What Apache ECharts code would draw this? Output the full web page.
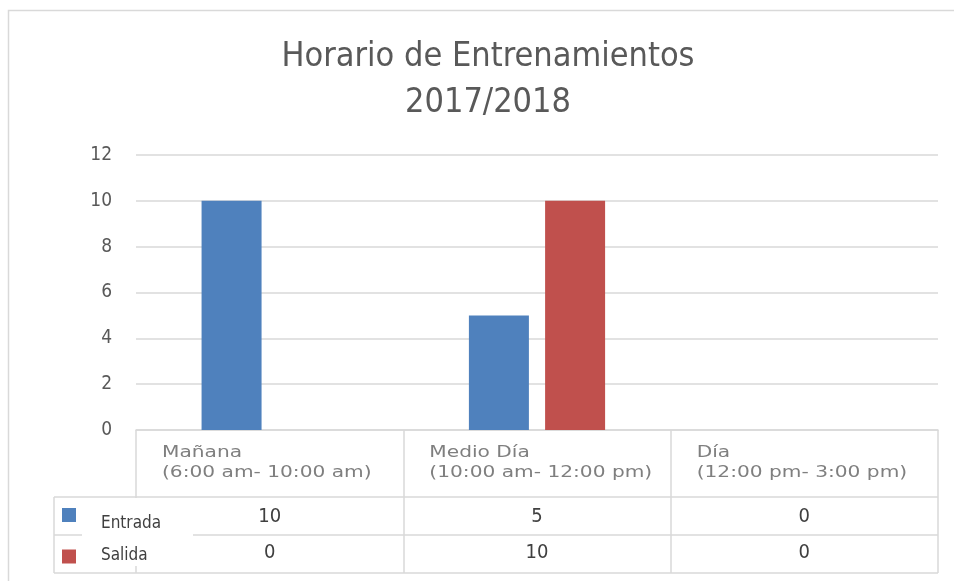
<!DOCTYPE html>
<html>
<head>
<meta charset="utf-8">
<script src="https://cdn.jsdelivr.net/npm/echarts@6/dist/echarts.min.js"></script>
<style>
  html, body { margin: 0; padding: 0; background: #fff; }
  #chart { width: 954px; height: 581px; }
</style>
</head>
<body>
<div id="chart"></div>
<script>
// datos del grafico
var categories = ['Mañana', 'Medio Día', 'Día'];
var categoryHours = ['(6:00 am- 10:00 am)', '(10:00 am- 12:00 pm)', '(12:00 pm- 3:00 pm)'];
var seriesNames = ['Entrada', 'Salida'];
var entrada = [10, 5, 0];
var salida = [0, 10, 0];
var yMin = 0, yMax = 12, yStep = 2;

var colors = ['#4f81bd', '#c0504d'];
var narrowFont = "'Liberation Sans Narrow', 'DejaVu Sans Condensed', sans-serif";
var wideFont = "'DejaVu Sans', Verdana, sans-serif";
var lineColor = '#d9d9d9';

var chart = echarts.init(document.getElementById('chart'));

chart.setOption({
  animation: false,
  color: colors,
  title: {
    text: 'Horario de Entrenamientos\n2017/2018',
    left: 483,
    top: 29,
    textAlign: 'center',
    textStyle: {
      fontFamily: narrowFont,
      fontSize: 34,
      fontWeight: 'normal',
      color: '#595959',
      lineHeight: 46
    }
  },
  grid: { left: 136, right: 16, top: 155, bottom: 151 },
  legend: [
    {
      data: [seriesNames[0]],
      orient: 'vertical',
      left: 62, top: 508,
      padding: 0,
      itemWidth: 14, itemHeight: 14,
      icon: 'rect',
      z: 10,
      formatter: '{t|{name}}',
      textStyle: {
        fontFamily: narrowFont, fontSize: 17, color: '#404040',
        rich: { t: { fontFamily: narrowFont, fontSize: 17, color: '#404040', padding: [18, 0, 0, 20] } }
      }
    },
    {
      data: [seriesNames[1]],
      orient: 'vertical',
      left: 62, top: 547,
      padding: 0,
      itemWidth: 14, itemHeight: 14,
      icon: 'rect',
      z: 10,
      formatter: '{t|{name}}',
      textStyle: {
        fontFamily: narrowFont, fontSize: 17, color: '#404040',
        rich: { t: { fontFamily: narrowFont, fontSize: 17, color: '#404040', padding: [0, 0, 2, 20] } }
      }
    }
  ],
  xAxis: {
    type: 'category',
    data: categories,
    boundaryGap: true,
    axisLine: { lineStyle: { color: lineColor, width: 1.5 } },
    axisTick: { show: true, length: 143, interval: 0, lineStyle: { color: lineColor, width: 1.5 } },
    axisLabel: { show: false },
    splitLine: { show: false }
  },
  yAxis: {
    type: 'value',
    min: yMin, max: yMax, interval: yStep,
    axisLine: { show: false },
    axisTick: { show: false },
    axisLabel: { margin: 24, fontFamily: narrowFont, fontSize: 19, color: '#595959' },
    splitLine: { lineStyle: { color: lineColor, width: 1.5 } }
  },
  series: [
    { name: seriesNames[0], type: 'bar', data: entrada, barWidth: 60, barGap: '27%' },
    { name: seriesNames[1], type: 'bar', data: salida, barWidth: 60, barGap: '27%' }
  ]
});

// tabla de datos debajo del eje
var graphics = [];
var tableLeft = 54, tableRight = 938;
var rowTops = [497, 535, 573];

// borde exterior
graphics.push({ type: 'rect', z: 0, shape: { x: 8.5, y: 10.5, width: 970, height: 600 },
  style: { fill: null, stroke: lineColor, lineWidth: 1.5 } });

rowTops.forEach(function (y) {
  graphics.push({ type: 'line', z: 1, shape: { x1: tableLeft, y1: y, x2: tableRight, y2: y },
    style: { stroke: lineColor, lineWidth: 1.5 } });
});
graphics.push({ type: 'line', z: 1, shape: { x1: tableLeft, y1: 497, x2: tableLeft, y2: 573 },
  style: { stroke: lineColor, lineWidth: 1.5 } });

// caja blanca de la leyenda
graphics.push({ type: 'rect', z: 5, shape: { x: 82, y: 498, width: 111, height: 68 },
  style: { fill: '#fff' } });

var c0 = chart.convertToPixel({ xAxisIndex: 0 }, 0);
var c1 = chart.convertToPixel({ xAxisIndex: 0 }, 1);
var band = c1 - c0;

categories.forEach(function (name, i) {
  var cx = chart.convertToPixel({ xAxisIndex: 0 }, i);
  var left = cx - band / 2;
  graphics.push({ type: 'text', z: 6, x: left + 26, y: 453, scaleX: 1.26,
    style: { text: name, fontFamily: wideFont, fontSize: 16, fill: '#7f7f7f', verticalAlign: 'middle' } });
  graphics.push({ type: 'text', z: 6, x: left + 26, y: 473, scaleX: 1.26,
    style: { text: categoryHours[i], fontFamily: wideFont, fontSize: 16, fill: '#7f7f7f', verticalAlign: 'middle' } });
  graphics.push({ type: 'text', z: 6, x: cx, y: 517,
    style: { text: String(entrada[i]), fontFamily: narrowFont, fontSize: 20, fill: '#404040', align: 'center', verticalAlign: 'middle' } });
  graphics.push({ type: 'text', z: 6, x: cx, y: 553,
    style: { text: String(salida[i]), fontFamily: narrowFont, fontSize: 20, fill: '#404040', align: 'center', verticalAlign: 'middle' } });
});

chart.setOption({ graphic: graphics });
</script>
</body>
</html>
